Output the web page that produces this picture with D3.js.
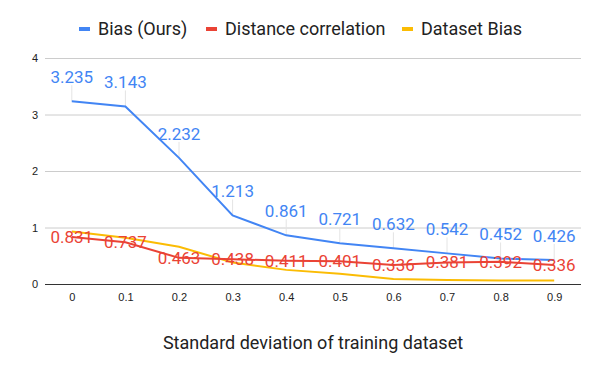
<!DOCTYPE html>
<html>
<head>
<meta charset="utf-8">
<script src="https://cdn.jsdelivr.net/npm/d3@7"></script>
<style>
	body { margin: 0; background: #fff; }
	svg { display: block; font-family: Roboto, Arial, sans-serif; }
</style>
</head>
<body>
<div id="món"></div>
<script>
// dades llegides del gràfic
const desviacions = ['0', '0.1', '0.2', '0.3', '0.4', '0.5', '0.6', '0.7', '0.8', '0.9'];
const biaixNostre = [3.235, 3.143, 2.232, 1.213, 0.861, 0.721, 0.632, 0.542, 0.452, 0.426];
const correlacio = [0.831, 0.737, 0.463, 0.438, 0.411, 0.401, 0.336, 0.381, 0.392, 0.336];
const biaixDades = [0.93, 0.82, 0.66, 0.38, 0.25, 0.18, 0.09, 0.07, 0.06, 0.06];
const marquesY = [0, 1, 2, 3, 4];
const noms = ['Bias (Ours)', 'Distance correlation', 'Dataset Bias'];

const Amplada = 600, Alçada = 371;
const marge = {dalt: 58, dreta: 19, baix: 87, esquerra: 45};
const amplada = Amplada - marge.esquerra - marge.dreta;
const alçada = Alçada - marge.dalt - marge.baix;

const colors = ['#4285f4', '#ea4335', '#fbbc04'];

const plànol = d3.select('#món')
	.append('svg')
		.attr('width', Amplada)
		.attr('height', Alçada);

const g = plànol.append('g')
	.attr('transform', `translate(${marge.esquerra},${marge.dalt})`);

const escX = d3.scalePoint()
	.domain(desviacions)
	.range([0, amplada])
	.padding(0.5);
const escY = d3.scaleLinear()
	.domain([0, 4])
	.range([alçada, 0]);

// graella
g.append('g')
	.call(d3.axisLeft(escY).tickValues(marquesY).tickSize(-amplada).tickFormat(d3.format('d')))
	.call(a => a.select('.domain').remove())
	.call(a => a.selectAll('line').attr('stroke', d => d === 0 ? '#333' : '#ccc'))
	.call(a => a.selectAll('text')
		.attr('x', -7)
		.attr('fill', '#222')
		.style('font-size', '11px'));
// tornar a posar la línia 0 a sobre
g.select('.tick line').raise();

g.append('g')
	.attr('transform', `translate(0,${alçada})`)
	.call(d3.axisBottom(escX).tickSize(0).tickPadding(9))
	.call(a => a.select('.domain').remove())
	.call(a => a.selectAll('text')
		.attr('fill', '#222')
		.style('font-size', '11px'));

const series = [biaixNostre, correlacio, biaixDades];

const línia = d3.line()
	.x((d, i) => escX(desviacions[i]))
	.y(d => escY(d));

// línies guia de les etiquetes blaves
g.append('g').selectAll('line')
	.data(biaixNostre)
	.join('line')
		.attr('x1', (d, i) => escX(desviacions[i]))
		.attr('x2', (d, i) => escX(desviacions[i]))
		.attr('y1', d => escY(d) - 16)
		.attr('y2', d => escY(d))
		.attr('stroke', '#e4e4e4')
		.attr('stroke-width', 1);

for (let i = series.length - 1; i >= 0; i--) {
	g.append('path')
		.datum(series[i])
		.attr('d', línia)
		.attr('fill', 'none')
		.attr('stroke', colors[i])
		.attr('stroke-width', 2);
}

// etiquetes blaves, per sobre del punt
g.append('g').selectAll('text')
	.data(biaixNostre)
	.join('text')
		.attr('x', (d, i) => escX(desviacions[i]))
		.attr('y', d => escY(d) - 18)
		.attr('text-anchor', 'middle')
		.attr('fill', colors[0])
		.style('font-size', '17px')
		.text(d => d3.format('.3f')(d));

// etiquetes vermelles, centrades al punt
g.append('g').selectAll('text')
	.data(correlacio)
	.join('text')
		.attr('x', (d, i) => escX(desviacions[i]))
		.attr('y', d => escY(d))
		.attr('dy', '0.35em')
		.attr('text-anchor', 'middle')
		.attr('fill', colors[1])
		.style('font-size', '17px')
		.text(d => d3.format('.3f')(d));

// llegenda
const llegenda = plànol.append('g').attr('transform', 'translate(0,29)');
const posicions = [79, 206, 402];
noms.forEach((nom, i) => {
	const it = llegenda.append('g').attr('transform', `translate(${posicions[i]},0)`);
	it.append('rect')
		.attr('x', 0).attr('y', -2)
		.attr('width', 11).attr('height', 4)
		.attr('fill', colors[i]);
	it.append('text')
		.attr('x', 19)
		.attr('dy', '0.35em')
		.attr('fill', '#222')
		.style('font-size', '18px')
		.text(nom);
});

// títol eix x
plànol.append('text')
	.attr('x', marge.esquerra + amplada / 2)
	.attr('y', 343)
	.attr('dy', '0.35em')
	.attr('text-anchor', 'middle')
	.attr('fill', '#222')
	.style('font-size', '18px')
	.text('Standard deviation of training dataset');
</script>
</body>
</html>
